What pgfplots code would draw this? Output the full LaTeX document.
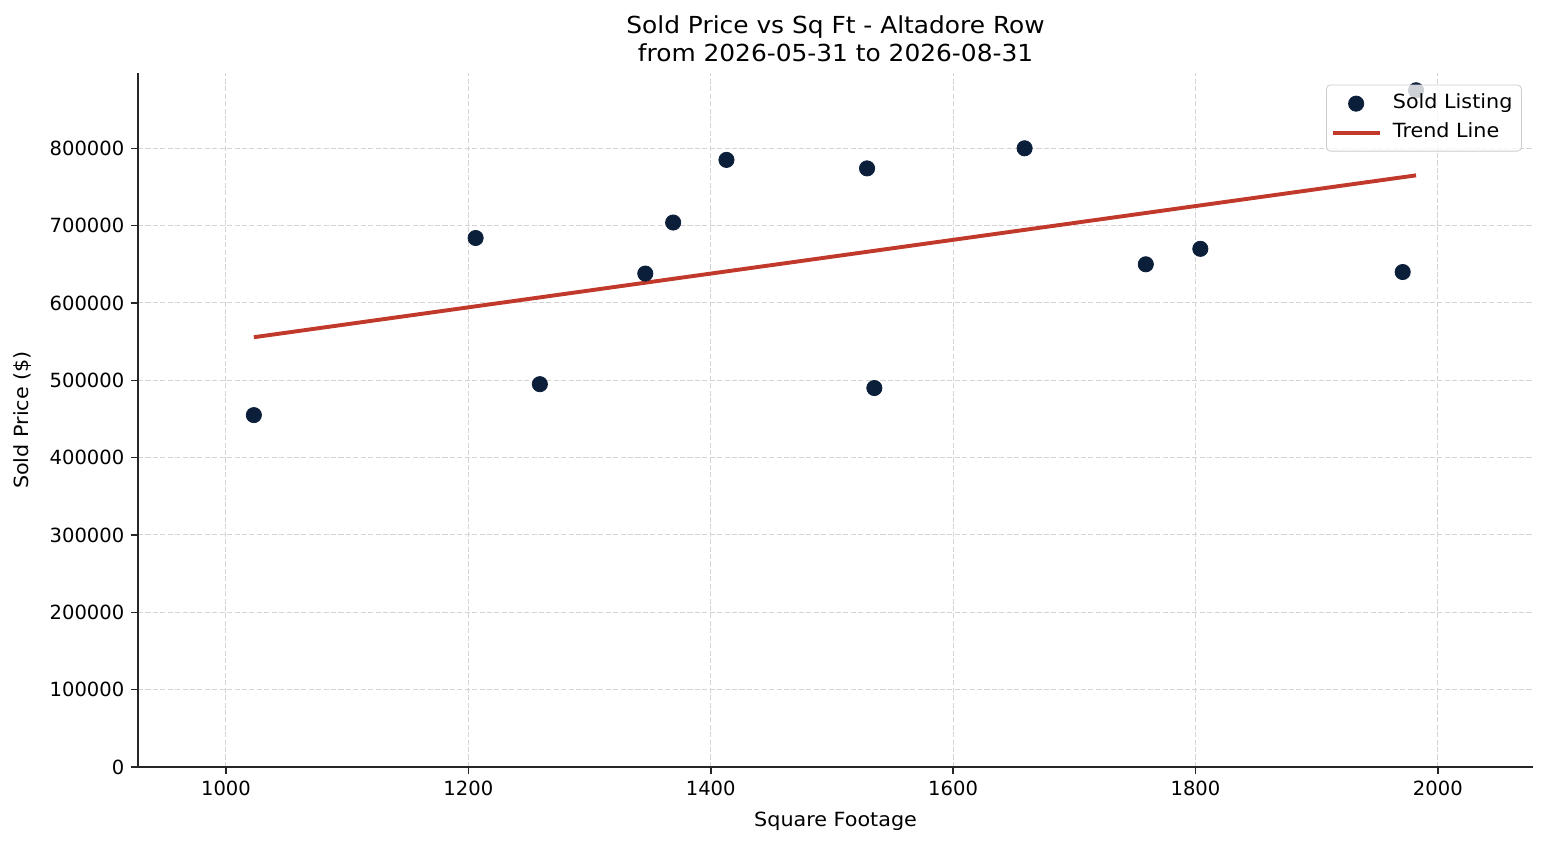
\documentclass[border=0pt]{standalone}
\usepackage{fontspec}
\setmainfont{DejaVu Sans}
\newfontfamily\widefont{DejaVu Sans}[FakeStretch=1.06]
\usepackage{pgfplots}
\pgfplotsset{compat=1.18}
\definecolor{navy}{HTML}{0B1F3A}
\definecolor{trend}{HTML}{C0392B}
\definecolor{gridc}{HTML}{D4D4D4}
\definecolor{spine}{HTML}{262626}
\pgfplotsset{
  scatterleg/.style={legend image code/.code={\draw[mark repeat=2, mark phase=2, ##1, fill opacity=1, draw opacity=1] plot coordinates {(0pt,0pt) (12pt,0pt) (24pt,0pt)};}},
  lineleg/.style={legend image code/.code={\draw[##1, draw opacity=1] (0pt,0pt) -- (24pt,0pt);}},
}
\begin{document}
\begin{tikzpicture}
\begin{axis}[
  set layers,
  scale only axis,
  width=714.0pt, height=355.2pt,
  xmin=927.4, xmax=2078.6,
  ymin=0, ymax=897400,
  axis x line*=bottom, axis y line*=left,
  axis line style={-, color=spine, line width=0.8pt},
  tick align=outside,
  major tick length=3.5pt,
  tick style={color=spine, line width=0.8pt},
  xtick={1000,1200,1400,1600,1800,2000},
  ytick={0,100000,200000,300000,400000,500000,600000,700000,800000},
  scaled ticks=false,
  /pgf/number format/assume math mode=true,
  xticklabel style={/pgf/number format/fixed, /pgf/number format/1000 sep={}, font=\fontsize{10}{12}\selectfont},
  yticklabel style={/pgf/number format/fixed, /pgf/number format/1000 sep={}, font=\fontsize{10}{12}\selectfont},
  grid=major,
  major grid style={color=gridc, line width=0.5pt, dash pattern=on 2.6pt off 1.2pt},
  every axis title shift=0pt,
  title={Sold Price vs Sq Ft - Altadore Row\\from 2026-05-31 to 2026-08-31},
  title style={at={(axis description cs:0.5,1.0154)}, anchor=south, inner sep=0pt, text depth=0pt, align=center, font=\widefont\fontsize{12}{14.5}\selectfont},
  xlabel={Square Footage},
  xlabel style={at={(axis description cs:0.5,-0.08615)}, anchor=base, inner sep=0pt, font=\widefont\fontsize{10}{12}\selectfont},
  ylabel={Sold Price (\$)},
  ylabel style={at={(axis description cs:-0.07815,0.5)}, anchor=base, inner sep=0pt, font=\widefont\fontsize{10}{12}\selectfont},
  legend style={at={(axis description cs:0.9919,0.9831)}, anchor=north east,
    draw=black!20, rounded corners=2pt, fill=white, fill opacity=0.8, text opacity=1, draw opacity=1,
    font=\widefont\fontsize{10}{12}\selectfont, inner xsep=2.2pt, inner ysep=4.5pt, row sep=4.8pt,
    nodes={inner sep=0pt, text height=7.6pt, text depth=2.4pt},
    /tikz/every odd column/.append style={column sep=5.8pt}},
  legend cell align=left,
]
\addplot[on layer=axis background, only marks, mark=*, mark size=3.9pt, color=navy, mark options={fill=navy, draw=navy}, scatterleg]
coordinates {
(1023,455000) (1206,684000) (1259,495000) (1346,638000) (1369,704000)
(1413,785000) (1529,774000) (1535,490000) (1659,800000) (1759,650000)
(1804,670000) (1971,640000) (1982,875000)
};
\addlegendentry{Sold Listing\kern2.4pt}
\addplot[color=trend, line width=2pt, no marks, lineleg]
coordinates {(1023,555700) (1982,765000)};
\addlegendentry{Trend Line}
\end{axis}
\pgfresetboundingbox
\path[use as bounding box] (-70.63pt,-39.92pt) rectangle (721.12pt,392.55pt);
\end{tikzpicture}
\end{document}
